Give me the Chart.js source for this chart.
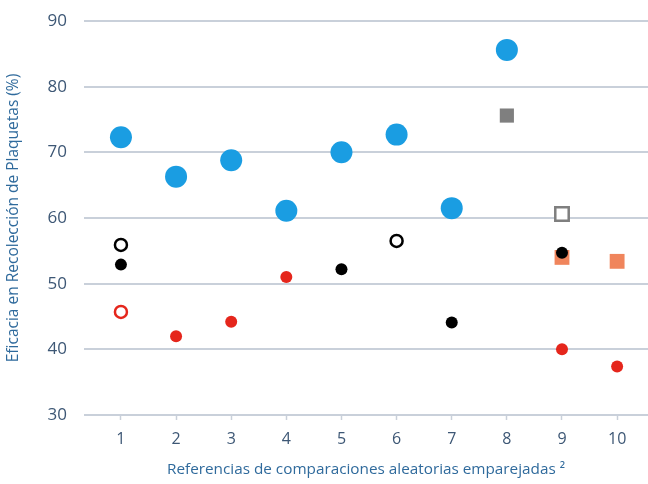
<!DOCTYPE html>
<html>
<head>
<meta charset="utf-8">
<script src="https://cdn.jsdelivr.net/npm/chart.js@4/dist/chart.umd.min.js"></script>
<style>
html,body{margin:0;padding:0;background:#fff;}
#wrap{width:648px;height:484px;position:relative;}
</style>
</head>
<body>
<div id="wrap"><canvas id="c" width="648" height="484"></canvas></div>
<script>
const categories = [1, 2, 3, 4, 5, 6, 7, 8, 9, 10];
const yTicks = [30, 40, 50, 60, 70, 80, 90];
const blueFilled   = [72.3, 66.3, 68.8, 61.1, 70.0, 72.7, 61.5, 85.6, null, null];
const blackFilled  = [52.9, null, null, null, 52.2, null, 44.1, null, 54.7, null];
const blackOpen    = [55.9, null, null, null, null, 56.5, null, null, null, null];
const redFilled    = [null, 42.0, 44.2, 51.0, null, null, null, null, 40.0, 37.4];
const redOpen      = [45.7, null, null, null, null, null, null, null, null, null];
const greyFilledSq = [null, null, null, null, null, null, null, 75.6, null, null];
const greyOpenSq   = [null, null, null, null, null, null, null, null, 60.6, null];
const salmonSq     = [null, null, null, null, null, null, null, null, 54.0, 53.4];

function pts(arr){
  const out = [];
  arr.forEach((v,i)=>{ if(v!==null) out.push({x:categories[i], y:v}); });
  return out;
}

const textColor = '#3d5775';
const titleColor = '#2f6a9c';
const gridColor = '#c9d0da';
const fontFam = '"Open Sans", sans-serif';

const datasets = [
  {data: pts(blueFilled), pointStyle:'circle', pointRadius:11, backgroundColor:'#1a9de2', borderWidth:0},
  {data: pts(blackFilled), pointStyle:'circle', pointRadius:6, backgroundColor:'#000000', borderWidth:0},
  {data: pts(blackOpen), pointStyle:'circle', pointRadius:6, backgroundColor:'#ffffff', borderColor:'#000000', borderWidth:2.5},
  {data: pts(redFilled), pointStyle:'circle', pointRadius:6, backgroundColor:'#e5261c', borderWidth:0},
  {data: pts(redOpen), pointStyle:'circle', pointRadius:6, backgroundColor:'#ffffff', borderColor:'#e5261c', borderWidth:2.5},
  {data: pts(greyFilledSq), pointStyle:'rect', pointRadius:10, backgroundColor:'#7f7f7f', borderWidth:0},
  {data: pts(greyOpenSq), pointStyle:'rect', pointRadius:9.5, backgroundColor:'#ffffff', borderColor:'#7f7f7f', borderWidth:2.5},
  {data: pts(salmonSq), pointStyle:'rect', pointRadius:10.5, backgroundColor:'#f0855c', borderWidth:0}
];
datasets.forEach(d=>{ d.pointHoverRadius = d.pointRadius; d.showLine=false; d.clip = false; });

new Chart(document.getElementById('c'), {
  type: 'scatter',
  data: {datasets},
  options: {
    responsive: false,
    animation: false,
    events: [],
    layout: {autoPadding: false, padding: {left: 0, right: 0, top: 21, bottom: 0}},
    plugins: {legend:{display:false}, tooltip:{enabled:false}},
    scales: {
      x: {
        type: 'linear',
        min: 0.33, max: 10.56,
        afterBuildTicks: s => { s.ticks = categories.map(v=>({value:v})); },
        afterFit: s => { s.height = 69; s.paddingLeft = 0; s.paddingRight = 0; },
        grid: {drawOnChartArea:false, drawTicks:true, tickLength:5, tickColor:gridColor, tickWidth:1.5},
        border: {display:false},
        ticks: {color:textColor, font:{family:fontFam, size:16}, padding:10, maxRotation:0, autoSkip:false},
        title: {display:true, text:'Referencias de comparaciones aleatorias emparejadas ²', color:titleColor, font:{family:fontFam, size:15.3}, padding:{top:6, bottom:5}}
      },
      y: {
        min: 30, max: 90,
        afterBuildTicks: s => { s.ticks = yTicks.map(v=>({value:v})); },
        afterFit: s => { s.width = 84; s.paddingTop = 0; s.paddingBottom = 0; },
        grid: {color:gridColor, lineWidth:2, drawTicks:false},
        border: {display:false},
        ticks: {color:textColor, font:{family:fontFam, size:17}, padding:17},
        title: {display:true, text:'Eficacia en Recolección de Plaquetas (%)', color:titleColor, font:{family:fontFam, size:15.5}, padding:{top:4,bottom:4}}
      }
    }
  }
});
</script>
</body>
</html>
